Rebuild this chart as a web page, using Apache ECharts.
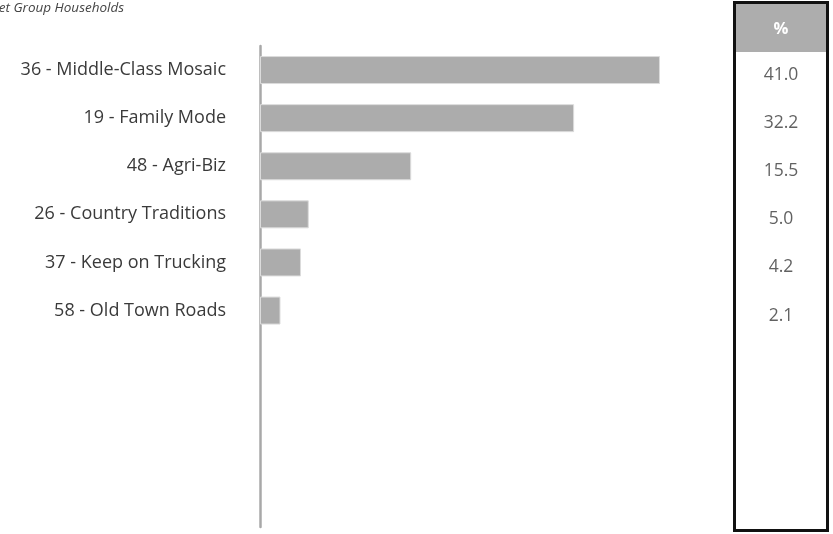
<!DOCTYPE html>
<html>
<head>
<meta charset="utf-8">
<script src="https://cdn.jsdelivr.net/npm/echarts@6/dist/echarts.min.js"></script>
<style>
  html, body { margin: 0; padding: 0; background: #fff; }
  #chart { width: 833px; height: 534px; }
</style>
</head>
<body>
<div id="chart"></div>
<script>
  // segment names, 4 empty slots keep the spacing of the original layout
  var segments = ['36 - Middle-Class Mosaic', '19 - Family Mode', '48 - Agri-Biz', '26 - Country Traditions', '37 - Keep on Trucking', '58 - Old Town Roads', '', '', '', ''];
  var percents = [41.0, 32.2, 15.5, 5.0, 4.2, 2.1, null, null, null, null];
  var tableHeader = '%';
  var titleText = 'Target Group Households';

  var myChart = echarts.init(document.getElementById('chart'));
  var font = '"Open Sans", sans-serif';

  var option = {
    animation: false,
    grid: [
      { left: 260, top: 46, width: 439, height: 481 },
      { left: 736, top: 51, width: 90, height: 481 }
    ],
    xAxis: [
      { gridIndex: 0, type: 'value', min: 0, max: 45, show: false },
      { gridIndex: 1, type: 'value', min: 0, max: 1, show: false }
    ],
    yAxis: [
      {
        gridIndex: 0,
        type: 'category',
        inverse: true,
        data: segments,
        axisLine: { show: true, lineStyle: { color: '#a8a8a8', width: 2.5 } },
        axisTick: { show: false },
        axisLabel: { color: '#3a3a3a', fontSize: 18, fontFamily: font, margin: 34 }
      },
      { gridIndex: 1, type: 'category', inverse: true, data: segments, show: false }
    ],
    series: [
      {
        type: 'bar',
        xAxisIndex: 0, yAxisIndex: 0,
        data: percents,
        barWidth: 28,
        itemStyle: { color: '#acacac', borderColor: '#dcdcdc', borderWidth: 1 }
      },
      {
        type: 'scatter',
        xAxisIndex: 1, yAxisIndex: 1,
        symbolSize: 0,
        data: percents.map(function (v, i) { return v == null ? null : [0.5, i, v]; }),
        label: {
          show: true,
          position: 'inside',
          color: '#3a3a3a',
          fontSize: 17.5,
          fontFamily: font,
          formatter: function (p) { return p.value[2].toFixed(1); }
        }
      }
    ],
    graphic: [
      {
        type: 'text', left: -28, top: 1,
        style: { text: titleText, font: 'italic 13.5px ' + font, fill: '#444' }
      },
      {
        type: 'rect', shape: { x: 735, y: 3, width: 92, height: 49 },
        style: { fill: '#adadad' }
      },
      {
        type: 'text', x: 781, y: 29,
        style: { text: tableHeader, font: 'bold 16.5px ' + font, fill: '#fff', align: 'center', verticalAlign: 'middle' }
      },
      {
        type: 'rect', shape: { x: 734.5, y: 2.5, width: 93, height: 528 },
        style: { fill: 'none', stroke: '#111', lineWidth: 3 }
      }
    ]
  };

  myChart.setOption(option);
</script>
</body>
</html>
